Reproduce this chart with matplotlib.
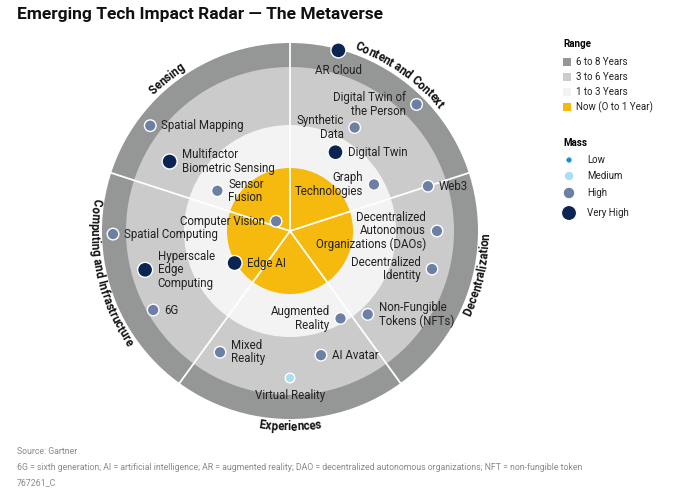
import numpy as np
import matplotlib
matplotlib.use("Agg")
import matplotlib.pyplot as plt
from matplotlib.patches import Circle, Rectangle
from matplotlib.font_manager import FontProperties
from matplotlib.textpath import text_to_path

plt.rcParams['font.family'] = ['Roboto', 'DejaVu Sans']

# ---- data ----
names = ["AR Cloud", "Digital Twin of\nthe Person", "Synthetic\nData", "Digital Twin",
         "Graph\nTechnologies", "Web3", "Decentralized\nAutonomous\nOrganizations (DAOs)",
         "Decentralized\nIdentity", "Non-Fungible\nTokens (NFTs)", "Augmented\nReality",
         "AI Avatar", "Virtual Reality", "Mixed\nReality", "6G", "Hyperscale\nEdge\nComputing",
         "Edge AI", "Spatial Computing", "Computer Vision", "Sensor\nFusion",
         "Multifactor\nBiometric Sensing", "Spatial Mapping"]
angles = [75, 45, 58, 60, 29, 18, 0, -15, -47, -60, -76, -90, 240, 210, 195, 210, 181, 145, 151, 150, 143]
radii = [187, 179, 122, 91, 96, 145, 147, 147, 114, 101, 128, 147, 140, 158, 150, 64, 177, 17, 83, 139, 175]
mass = ["Very High", "High", "High", "Very High", "High", "High", "High", "High", "High", "High",
        "High", "Medium", "High", "High", "Very High", "Very High", "High", "High", "High",
        "Very High", "High"]
# label placement: (side, dx, dy) relative to dot in pixels
label_side = ["below", "left", "left", "right", "left", "right", "left", "left", "right", "left",
              "right", "below", "right", "right", "right", "right", "right", "left", "right",
              "right", "right"]

sectors = ["Content and Context", "Sensing", "Decentralization", "Experiences", "Computing and Infrastructure"]
sector_angles = [55, 129, -13, 270, 193]
sector_top = [True, True, False, False, False]
spokes = [90, 18, -54, -126, 162]

ring_labels = ["6 to 8 Years", "3 to 6 Years", "1 to 3 Years", "Now (O to 1 Year)"]
ring_radii = [188, 164, 106, 63]
ring_colors = ["#959796", "#cbcbcb", "#f3f3f3", "#f6b90d"]

mass_levels = ["Low", "Medium", "High", "Very High"]
mass_colors = {"Low": "#1b8fd2", "Medium": "#a9def3", "High": "#6c80a6", "Very High": "#0c2452"}
mass_r = {"Low": 3.2, "Medium": 4.8, "High": 5.8, "Very High": 7.5}

W, H = 688, 498
cx, cy = 290, 231

fig = plt.figure(figsize=(W / 100, H / 100), dpi=100)
ax = fig.add_axes([0, 0, 1, 1])
ax.set_xlim(0, W)
ax.set_ylim(H, 0)
ax.axis("off")

def pos(a, r):
    t = np.deg2rad(a)
    return cx + r * np.cos(t), cy - r * np.sin(t)

for r, c in zip(ring_radii, ring_colors):
    ax.add_patch(Circle((cx, cy), r, facecolor=c, edgecolor="none", zorder=1))
for a in spokes:
    x, y = pos(a, ring_radii[0])
    ax.plot([cx, x], [cy, y], color="white", lw=1.3, zorder=2)

fs = 8.3
for n, a, r, m, side in zip(names, angles, radii, mass, label_side):
    x, y = pos(a, r)
    ax.add_patch(Circle((x, y), mass_r[m], facecolor=mass_colors[m], edgecolor="white", lw=1, zorder=4))
    off = mass_r[m] + 5
    if side == "left":
        ax.text(x - off, y, n, ha="right", va="center", fontsize=fs, color="#222222", zorder=5, linespacing=1.05)
    elif side == "right":
        ax.text(x + off, y, n, ha="left", va="center", fontsize=fs, color="#222222", zorder=5, linespacing=1.05)
    else:
        ax.text(x, y + off + 1, n, ha="center", va="top", fontsize=fs, color="#222222", zorder=5)

# curved sector labels
prop = FontProperties(family="Roboto", weight="bold", size=8.3)
def twidth(s):
    w, h, d = text_to_path.get_text_width_height_descent(s.replace(" ", "\u00a0"), prop, ismath=False)
    return w * 100 / 72

R = 196
for s, a0, top in zip(sectors, sector_angles, sector_top):
    total = twidth(s)
    for i, ch in enumerate(s):
        s0 = twidth(s[:i]) if i else 0
        s1 = twidth(s[:i + 1])
        sc = (s0 + s1) / 2 - total / 2
        d = np.rad2deg(sc / R)
        if top:
            a = a0 - d
            rot = a - 90
        else:
            a = a0 + d
            rot = a + 90
        x, y = pos(a, R)
        ax.text(x, y, ch, fontproperties=prop, rotation=rot, rotation_mode="anchor",
                ha="center", va="center", color="#111111", zorder=6)

# title
ax.text(17, 14, "Emerging Tech Impact Radar — The Metaverse", fontsize=12.5, fontweight="bold",
        ha="left", va="center", color="#111111")

# legend
ax.text(563, 44, "Range", fontsize=7, fontweight="bold", ha="left", va="center")
for i, (lab, c) in enumerate(zip(ring_labels, ring_colors)):
    y = 62 + i * 15
    ax.add_patch(Rectangle((563, y - 4), 8, 8, facecolor=c, edgecolor="none"))
    ax.text(576, y, lab, fontsize=7, ha="left", va="center", color="#222222")
ax.text(563, 143, "Mass", fontsize=7, fontweight="bold", ha="left", va="center")
for lab, y in zip(mass_levels, [160, 176, 193, 213]):
    ax.add_patch(Circle((569, y), mass_r[lab], facecolor=mass_colors[lab], edgecolor="white", lw=0.8))
    ax.text(587, y, lab, fontsize=7, ha="left", va="center", color="#222222")

# footer
foot = ["Source: Gartner",
        "6G = sixth generation; AI = artificial intelligence; AR = augmented reality; DAO = decentralized autonomous organizations; NFT = non-fungible token",
        "767261_C"]
for i, t in enumerate(foot):
    ax.text(17, 451 + i * 16, t, fontsize=6.3, ha="left", va="center", color="#8a8a8a")

fig.savefig("out.png", dpi=100)
